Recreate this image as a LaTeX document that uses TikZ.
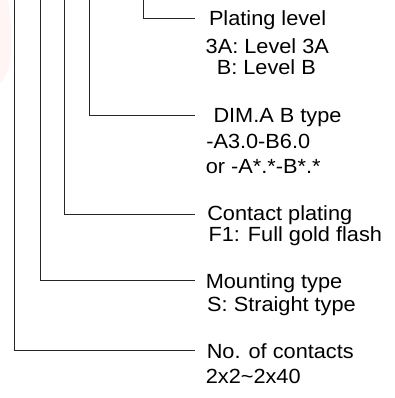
\documentclass[tikz,border=0pt]{standalone}
\usepackage{fontspec}
\setmainfont{Liberation Sans}[FakeStretch=1.06]
\begin{document}
\begin{tikzpicture}[x=1pt,y=-1pt,
  lead/.style={draw=black!85,line width=0.9pt},
  lbl/.style={anchor=base west,inner sep=0pt,outer sep=0pt,font=\fontsize{20.5}{21}\selectfont}]
\useasboundingbox (0,0) rectangle (395,398);
% faint watermark remnant
\fill[red!40!white,opacity=0.10] (0,0) -- (8,0) .. controls (11,20) and (13,45) .. (10,62) .. controls (8,72) and (4,80) .. (0,84) -- cycle;
% text
\node[lbl] (pl1) at (209.0,26.0) {Plating level};
\node[lbl] (pl2) at (205.7,53.3) {3A: Level 3A};
\node[lbl] (pl3) at (216.8,75.0) {B: Level B};
\node[lbl] (dm1) at (213.5,122.7) {DIM.A B type};
\node[lbl] (dm2) at (206.3,148.3) {-A3.0-B6.0};
\node[lbl] (dm3) at (205.8,173.3) {or -A*.*-B*.*};
\node[lbl] (cp1) at (207.3,220.7) {Contact plating};
\node[lbl] (cp2) at (208.5,241.3) {F1: Full gold flash};
\node[lbl] (mt1) at (205.8,288.7) {Mounting type};
\node[lbl] (mt2) at (207.2,311.3) {S: Straight type};
\node[lbl] (nc1) at (206.8,358.7) {No. of contacts};
\node[lbl] (nc2) at (205.8,383.0) {2x2\textasciitilde 2x40};
% leader coordinates
\coordinate (t1) at (143.5,0);  \coordinate (e1) at (195,18.3);
\coordinate (t2) at (89.8,0);   \coordinate (e2) at (195,115.7);
\coordinate (t3) at (64.4,0);   \coordinate (e3) at (195,214);
\coordinate (t4) at (40.4,0);   \coordinate (e4) at (195,280);
\coordinate (t5) at (14.7,0);   \coordinate (e5) at (195,350.7);
\draw[lead] (t1) |- (e1);
\draw[lead] (t2) |- (e2);
\draw[lead] (t3) |- (e3);
\draw[lead] (t4) |- (e4);
\draw[lead] (t5) |- (e5);
\end{tikzpicture}
\end{document}
